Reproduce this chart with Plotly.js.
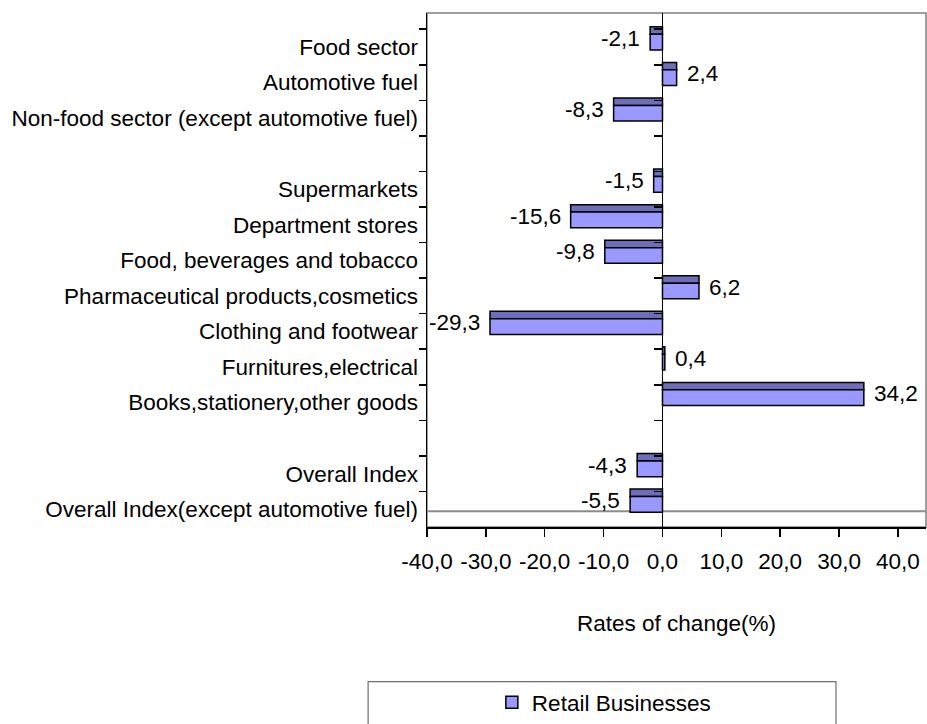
<!DOCTYPE html>
<html>
<head>
<meta charset="utf-8">
<script src="https://cdn.plot.ly/plotly-3.0.1.min.js"></script>
<style>html,body{margin:0;padding:0;background:#fff;}#chart{width:927px;height:724px;}</style>
</head>
<body>
<div id="chart"></div>
<script>
const categories = [
  'Food sector',
  'Automotive fuel',
  'Non-food sector (except automotive fuel)',
  ' ',
  'Supermarkets',
  'Department stores',
  'Food, beverages and tobacco',
  'Pharmaceutical products,cosmetics',
  'Clothing and footwear',
  'Furnitures,electrical',
  'Books,stationery,other goods',
  '  ',
  'Overall Index',
  'Overall Index(except automotive fuel)'
];
const values = [-2.1, 2.4, -8.3, null, -1.5, -15.6, -9.8, 6.2, -29.3, 0.4, 34.2, null, -4.3, -5.5];
const seriesName = 'Retail Businesses';
const xTickVals = [-40, -30, -20, -10, 0, 10, 20, 30, 40];
const xTickLabels = ['-40,0', '-30,0', '-20,0', '-10,0', '0,0', '10,0', '20,0', '30,0', '40,0'];
const xTitle = 'Rates of change(%)';

const FONT = 'Liberation Sans, Arial, sans-serif';
const FS = 22.5;

const darkTop = {
  type: 'bar', orientation: 'h', x: values, y: categories,
  yaxis: 'y',
  offset: -0.566, width: 0.209,
  marker: {color: '#6E6EB8', line: {color: '#000', width: 1.5}},
  showlegend: false, hoverinfo: 'skip'
};
const lightFace = {
  type: 'bar', orientation: 'h', x: values, y: categories,
  name: seriesName,
  offset: -0.357, width: 0.441,
  marker: {color: '#9999FF', line: {color: '#000', width: 1.5}},
  showlegend: true, hoverinfo: 'skip'
};
const tickHelper = {
  type: 'scatter', mode: 'markers', x: categories.map(() => 0), y: categories,
  yaxis: 'y2', marker: {opacity: 0}, showlegend: false, hoverinfo: 'skip'
};

const annotations = [];
values.forEach((v, i) => {
  if (v === null) return;
  annotations.push({
    x: v, y: categories[i], xref: 'x', yref: 'y',
    text: v.toFixed(1).replace('.', ','),
    showarrow: false,
    xanchor: v < 0 ? 'right' : 'left',
    xshift: v < 0 ? -8 : 8,
    yshift: 8.6,
    font: {family: FONT, size: FS, color: '#000'}
  });
});

const yRange = [13.5, -0.956];

const layout = {
  width: 927, height: 724,
  margin: {l: 427, r: 1, t: 13, b: 196, pad: 0},
  paper_bgcolor: '#fff', plot_bgcolor: '#fff',
  font: {family: FONT, size: FS, color: '#000'},
  barmode: 'overlay',
  showlegend: true,
  xaxis: {
    range: [-40, 44.76], autorange: false,
    tickvals: xTickVals, ticktext: xTickLabels,
    ticks: 'outside', ticklen: 8, tickcolor: '#000', tickwidth: 1.5,
    ticklabelstandoff: 5,
    showline: true, linecolor: '#000', linewidth: 1.5,
    showgrid: false,
    zeroline: true, zerolinecolor: '#000', zerolinewidth: 1.5,
    tickfont: {family: FONT, size: FS, color: '#000'},
    title: {text: xTitle, standoff: 42, font: {family: FONT, size: FS, color: '#000'}},
    automargin: false, fixedrange: true
  },
  yaxis: {
    type: 'category', categoryorder: 'array', categoryarray: categories,
    range: yRange, autorange: false,
    tickson: 'boundaries',
    ticks: 'outside', ticklen: 7, tickcolor: '#000', tickwidth: 1.5,
    ticklabelstandoff: 3,
    showline: true, linecolor: '#000', linewidth: 1.5,
    showgrid: false, zeroline: false,
    tickfont: {family: FONT, size: FS, color: '#000'},
    automargin: false, fixedrange: true
  },
  yaxis2: {
    type: 'category', categoryorder: 'array', categoryarray: categories,
    range: yRange, autorange: false,
    overlaying: 'y', anchor: 'free', position: 40 / 84.76, side: 'left',
    tickson: 'boundaries',
    ticks: 'outside', ticklen: 8, tickcolor: '#000', tickwidth: 1.5,
    showticklabels: false, showline: false, showgrid: false, zeroline: false,
    automargin: false, fixedrange: true
  },
  legend: {
    x: 0.13, xanchor: 'left', y: -0.34, yanchor: 'middle',
    bgcolor: 'rgba(0,0,0,0)', borderwidth: 0,
    font: {family: FONT, size: FS, color: '#000'}
  },
  shapes: [
    {type: 'rect', xref: 'paper', yref: 'paper', x0: 0, x1: 1, y0: 0, y1: 1,
     line: {color: '#808080', width: 1.5}, layer: 'below'},
    {type: 'line', xref: 'paper', yref: 'paper', x0: 0, x1: 1, y0: 0.0305, y1: 0.0305,
     line: {color: '#8C8C8C', width: 2}, layer: 'below'},
    {type: 'rect', xref: 'paper', yref: 'paper', x0: -0.118, x1: 0.8196, y0: -0.301, y1: -0.40,
     line: {color: '#6F6F6F', width: 1.2}, layer: 'below'}
  ],
  annotations: annotations
};

Plotly.newPlot('chart', [darkTop, lightFace, tickHelper], layout, {staticPlot: true, displayModeBar: false});
</script>
</body>
</html>
